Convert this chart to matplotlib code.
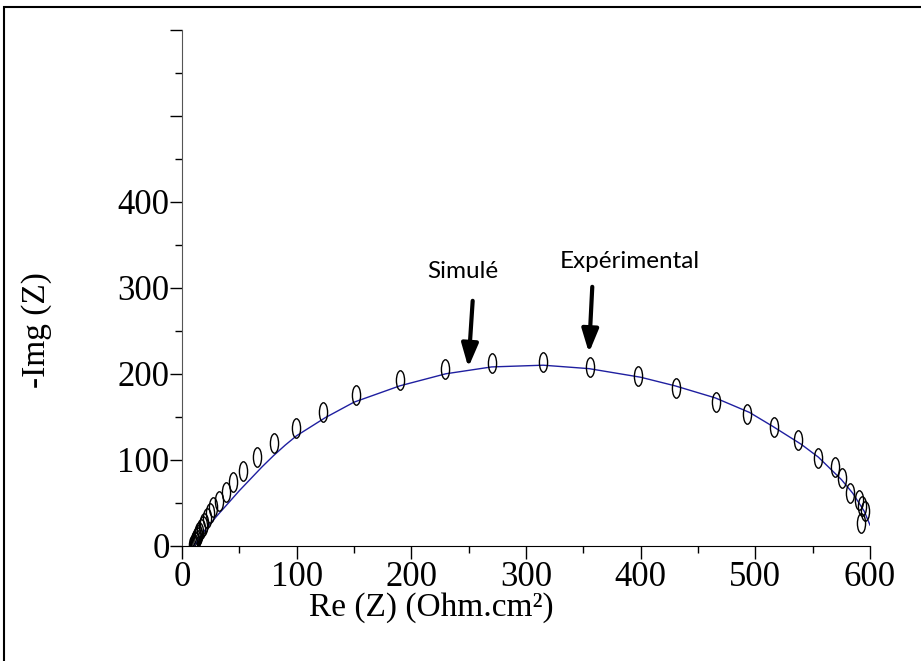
import numpy as np
import matplotlib
matplotlib.use("Agg")
from matplotlib import pyplot as plt
from matplotlib.path import Path
from matplotlib.markers import MarkerStyle
from matplotlib.patches import Rectangle
from matplotlib.transforms import Affine2D

# Points expérimentaux (Re, -Im)
exp_re = [10, 10.5, 11, 11.5, 12, 13, 14, 15, 16.5, 18, 19.5, 21.5, 24.4, 27.3,
          32.3, 38.1, 44.7, 53.5, 65.7, 80.5, 99.7, 123.2, 152, 189.9, 229.1,
          270.1, 314.6, 356.1, 397.9, 430.5, 465.4, 492.5, 516.0, 537.5, 554.9,
          569.2, 575.3, 582.8, 590.6, 593.0, 595.4, 592.1]
exp_im = [0.5, 2, 4, 6, 8, 10.5, 13, 16, 19, 22.5, 26, 31.9, 37.7, 44.7,
          52.3, 62.1, 73.7, 87.2, 102.8, 119.1, 137.2, 155.1, 175.2, 192.7, 205.1,
          212.1, 213.3, 208.1, 197.3, 183.0, 167.4, 152.8, 138.4, 122.9, 101.6,
          91.2, 78.4, 60.9, 53.1, 46.5, 40.7, 26.0]

# Courbe simulée
sim_re = [10.5, 20, 30, 40, 50, 60, 70, 80, 90, 100, 125, 150, 190, 230, 270,
          315, 355, 400, 430, 465, 495, 515, 540, 555, 575, 585, 595, 600]
sim_im = [0, 18, 34, 49, 64, 78, 92, 105, 117, 128, 149, 167, 186, 200, 208,
          210, 206, 196, 186, 172, 155, 139, 118, 103, 77, 61, 40, 24]

xticks = [0, 100, 200, 300, 400, 500, 600]
yticks = [0, 100, 200, 300, 400, 500, 600]
ylabels = ["0", "100", "200", "300", "400", "", ""]

fig = plt.figure(figsize=(9.21, 6.61), dpi=100)
ax = fig.add_axes([182/921, 1-545.7/661, (870-182)/921, (545.7-30)/661])

# marqueur ellipse (ouverte, allongée verticalement)
circ = Path.unit_circle()
ell = circ.transformed(Affine2D().scale(0.42, 1.0))
marker = MarkerStyle(ell)

ax.plot(sim_re, sim_im, color="#1f1fa0", lw=1.0, zorder=2)
ax.plot(exp_re, exp_im, linestyle="none", marker=marker, markersize=14,
        markerfacecolor="none", markeredgecolor="black", markeredgewidth=1.0, zorder=3)

ax.set_xlim(0, 600)
ax.set_ylim(0, 600)
ax.spines["top"].set_visible(False)
ax.spines["right"].set_visible(False)
ax.spines["left"].set_color("#555555")

ax.set_xticks(xticks)
ax.set_xticks(np.arange(50, 600, 100), minor=True)
ax.set_yticks(yticks)
ax.set_yticklabels(ylabels)
ax.set_yticks(np.arange(50, 600, 100), minor=True)

for lab in ax.get_xticklabels() + ax.get_yticklabels():
    lab.set_fontfamily("Liberation Serif")
    lab.set_fontsize(25)
ax.tick_params(which="major", length=9, width=1)
ax.tick_params(which="minor", length=5, width=1)
ax.tick_params(axis="x", pad=2)
ax.tick_params(axis="y", pad=0)

ax.set_xlabel("Re (Z) (Ohm.cm²)", fontdict={"family": "Liberation Serif", "size": 24})
ax.set_ylabel("-Img (Z)", fontdict={"family": "Liberation Serif", "size": 24})
ax.xaxis.set_label_coords(0.363, -0.09)
ax.yaxis.set_label_coords(-0.189, 0.418)

# annotations
arr = dict(arrowstyle="-|>,head_length=1.4,head_width=0.5", color="black", lw=3,
           shrinkA=0, shrinkB=0)
ax.annotate("", xy=(249.7, 207.4), xytext=(253.5, 284.9), arrowprops=arr)
ax.text(245.3, 318.6, "Simulé", ha="center", va="center", fontsize=17.5, family="Lato")
ax.annotate("", xy=(354.9, 224.4), xytext=(357.8, 301.2), arrowprops=arr)
ax.text(390.7, 330.2, "Expérimental", ha="center", va="center", fontsize=17.5, family="Lato")

# cadre autour de la figure
fig.patches.append(Rectangle((4/921, -0.1), 1.2, 1 - 7/661 + 0.1, transform=fig.transFigure,
                             fill=False, edgecolor="black", lw=1.5, clip_on=False))

fig.savefig("out.png", dpi=100)
